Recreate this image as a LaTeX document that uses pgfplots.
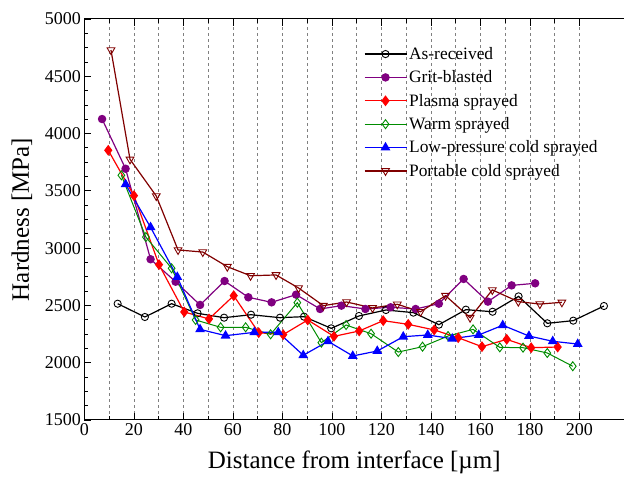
\documentclass[border=0pt]{standalone}
\usepackage{pgfplots}
\pgfplotsset{compat=1.18}
\usepackage{fontspec}
\setmainfont{Liberation Serif}

\definecolor{cPurple}{RGB}{128,0,128}
\definecolor{cGreen}{RGB}{0,140,0}
\definecolor{cDarkRed}{RGB}{128,0,0}

\begin{document}
\begin{tikzpicture}
\begin{axis}[
    scale only axis,
    width=539.5pt, height=401pt,
    xmin=0, xmax=218,
    ymin=1500, ymax=5000,
    axis x line*=box,
    axis y line*=left,
    xtick={0,20,...,200},
    minor x tick num=1,
    ytick={1500,2000,...,5000},
    minor y tick num=3,
    xmajorgrids, xminorgrids,
    major grid style={gray, dashed, line width=0.6pt},
    minor grid style={gray, dashed, line width=0.6pt},
    major tick length=7pt,
    minor tick length=4pt,
    tick style={black, line width=0.8pt},
    axis line style={line width=1pt},
    /pgf/number format/assume math mode=true,
    /pgf/number format/1000 sep={},
    tick label style={font=\fontsize{18}{20}\selectfont},
    xlabel={Distance from interface [µm]},
    ylabel={Hardness [MPa]},
    label style={font=\fontsize{25}{28}\selectfont},
    xlabel style={yshift=-8pt},
    ylabel style={yshift=6pt},
    legend style={draw=none, fill=none, at={(0.512,0.94)}, anchor=north west,
        font=\fontsize{17.4}{20}\selectfont, row sep=5.8pt,
        legend cell align=left},
    legend image code/.code={%
        \draw[mark repeat=2, mark phase=2] plot coordinates {(0pt,0pt) (21pt,0pt) (42pt,0pt)};},
    every axis plot/.append style={line width=1.2pt, mark size=3.6pt},
]
% As-received
\addplot[black, mark=o, mark options={fill=white, line width=0.9pt}] coordinates {
(13.4,2515) (24.4,2399) (35.2,2515) (45.7,2431) (56.4,2393) (67.3,2419)
(79,2393) (88.7,2402) (99.7,2300) (110.9,2408) (121.8,2460) (132.9,2437)
(143.2,2332) (154.1,2463) (164.9,2445) (175.4,2579) (187,2344) (197.5,2367)
(209.9,2495)};
% Grit-blasted
\addplot[cPurple, mark=*, mark options={fill=cPurple}] coordinates {
(7.1,4127) (16.6,3693) (26.7,2903) (36.8,2707) (46.7,2504) (56.6,2713)
(66.2,2571) (75.6,2527) (85.5,2594) (95.2,2469) (103.8,2498) (113.5,2469)
(123.7,2484) (133.8,2469) (143.2,2515) (153.2,2731) (163,2533) (172.6,2675)
(182.1,2693)};
% Plasma sprayed
\addplot[red, mark=diamond*, mark options={fill=red}, mark size=4.5pt] coordinates {
(9.6,3854) (20,3458) (30.1,2856) (40.3,2443) (50.3,2382) (60.3,2585)
(70.4,2262) (80.3,2245) (90.2,2373) (100.8,2230) (111,2277) (120.7,2367)
(130.8,2335) (141.3,2286) (151,2218) (160.6,2140) (170.6,2204) (180.5,2131)
(191.2,2137)};
% Warm sprayed
\addplot[cGreen, line width=1pt, mark=diamond, mark options={fill=white, line width=0.9pt}, mark size=4.5pt] coordinates {
(14.9,3636) (24.8,3097) (35.2,2824) (44.9,2373) (55,2309) (65.1,2309)
(75.2,2248) (86,2524) (95.7,2175) (105.7,2329) (115.8,2253) (126.8,2093)
(136.6,2140) (146.9,2233) (157,2291) (167.8,2134) (177.2,2131) (187,2085)
(197.3,1969)};
% Low-pressure cold sprayed
\addplot[blue, mark=triangle*, mark options={fill=blue}, mark size=4.5pt] coordinates {
(16.6,3557) (26.7,3182) (37.5,2748) (46.7,2291) (57,2236) (68.6,2265)
(78.3,2265) (88.4,2065) (98.4,2187) (108.4,2059) (118.3,2102) (128.8,2227)
(138.7,2242) (148.6,2210) (159.3,2242) (169,2327) (179.6,2233) (189.2,2187)
(199.3,2163)};
% Portable cold sprayed
\addplot[cDarkRed, mark=triangle, mark options={fill=white, rotate=180, line width=0.9pt}, mark size=4.5pt] coordinates {
(10.7,4729) (18.4,3775) (29,3455) (37.8,2984) (47.8,2966) (57.7,2838)
(67.1,2759) (77.4,2766) (86.5,2652) (96.5,2498) (105.9,2530) (116.4,2478)
(126.4,2510) (135.8,2445) (145.9,2585) (155.8,2393) (164.8,2635) (175.3,2533)
(184,2512) (192.9,2527)};
\legend{As-received, Grit-blasted, Plasma sprayed, Warm sprayed,
        Low-pressure cold sprayed, Portable cold sprayed}
\end{axis}
\path[use as bounding box] (-84.5pt,-55pt) rectangle (540.5pt,420pt);
\end{tikzpicture}
\end{document}
